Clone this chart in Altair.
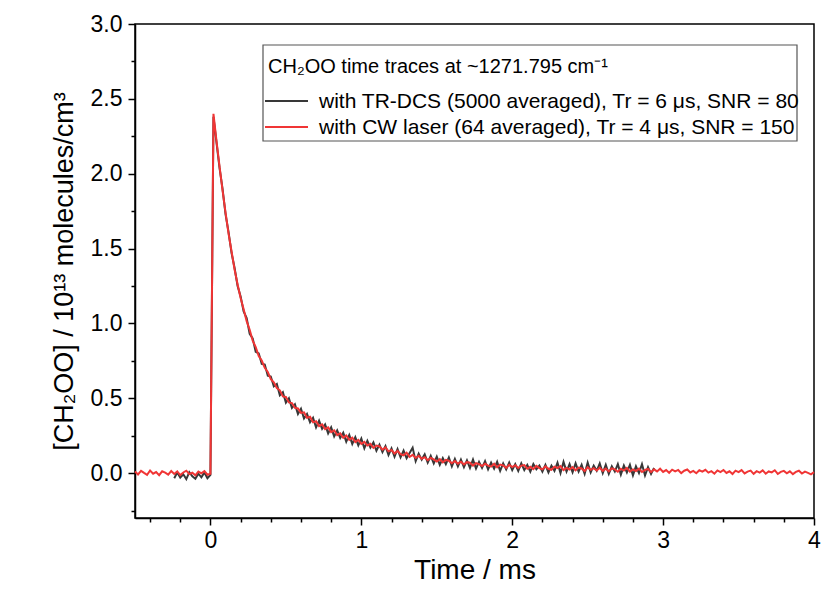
import altair as alt
import numpy as np
import pandas as pd

# ---------------- data ----------------
LEGEND_TITLE = "CH\u2082OO time traces at ~1271.795 cm\u207b\u00b9"
LABEL_DCS = "with TR-DCS (5000 averaged), Tr = 6 \u03bcs, SNR = 80"
LABEL_CW = "with CW laser (64 averaged), Tr = 4 \u03bcs, SNR = 150"
COLOR_DCS = "#383838"
COLOR_CW = "#f03535"

# CW laser trace: t = -0.50 ... 4.00 ms, step 0.02 ms
red_pre = [0.010, -0.009, 0.015, 0.001, -0.012, 0.017, -0.004, 0.007, -0.014, 0.012,
           0.003, -0.010, 0.014, -0.006, 0.011, -0.013, 0.004, 0.016, -0.007, 0.002,
           -0.015, 0.010, -0.002, 0.013, -0.011, -0.004]
red_decay = [
    2.40, 2.22, 2.05, 1.89, 1.74, 1.60, 1.48, 1.36, 1.26, 1.17,
    1.095, 1.015, 0.958, 0.885, 0.842, 0.782, 0.752, 0.703, 0.676, 0.628,
    0.607, 0.568, 0.553, 0.512, 0.509, 0.472, 0.468, 0.436, 0.432, 0.402,
    0.406, 0.370, 0.376, 0.339, 0.347, 0.314, 0.326, 0.294, 0.305, 0.274,
    0.286, 0.254, 0.266, 0.236, 0.252, 0.222, 0.236, 0.207, 0.222, 0.195,
    0.209, 0.184, 0.195, 0.169, 0.184, 0.178, 0.156, 0.171, 0.145, 0.154,
    0.131, 0.148, 0.126, 0.119, 0.136, 0.108, 0.122, 0.101, 0.116, 0.096,
    0.106, 0.086, 0.101, 0.091, 0.077, 0.093, 0.072, 0.088, 0.083, 0.066,
    0.081, 0.063, 0.076, 0.058, 0.073, 0.069, 0.050, 0.066, 0.060, 0.047,
    0.063, 0.050, 0.043, 0.062, 0.039, 0.057, 0.051, 0.035, 0.055, 0.040,
    0.053, 0.034, 0.050, 0.054, 0.029, 0.042, 0.027, 0.048, 0.033, 0.025,
    0.045, 0.029, 0.022, 0.043, 0.034, 0.047, 0.020, 0.035, 0.024, 0.040,
    0.019, 0.037, 0.031, 0.014, 0.039, 0.022, 0.033, 0.017, 0.036, 0.015,
    0.030, 0.011, 0.032, 0.025, 0.009, 0.029, 0.017, 0.035, 0.010, 0.024,
    0.014, 0.030, 0.007, 0.021, 0.028, 0.006, 0.025, 0.011, 0.029, 0.008,
    0.020, 0.002, 0.023, 0.012, 0.021, 0.000, 0.016, 0.024, 0.004, 0.015,
    -0.001, 0.019, 0.010, 0.022, 0.003, 0.013, -0.004, 0.018, 0.007, 0.021,
    0.001, 0.012, -0.006, 0.016, 0.006, 0.020, -0.002, 0.010, 0.017, -0.005,
    0.013, 0.003, 0.018, -0.004, 0.011, 0.005, 0.019, -0.006, 0.008, 0.015,
    -0.001, 0.012, -0.007, 0.008, 0.016, -0.003, 0.010, 0.002, -0.008, 0.006,
]
red_y = red_pre + red_decay
red_t = np.round(np.arange(-0.50, 4.0001, 0.02), 2)

# TR-DCS trace: t = -0.24 ... 2.94 ms, step 0.02 ms
black_pre = [-0.034, 0.004, -0.030, -0.008, -0.040, 0.006, -0.022, -0.038, -0.004,
             -0.028, 0.004, -0.034, -0.012]
black_decay = [
    2.38, 2.21, 2.04, 1.90, 1.73, 1.61, 1.47, 1.37, 1.25, 1.18,
    1.08, 1.035, 0.93, 0.90, 0.81, 0.80, 0.73, 0.725, 0.65, 0.645,
    0.580, 0.595, 0.520, 0.540, 0.470, 0.500, 0.435, 0.460, 0.395, 0.430,
    0.365, 0.395, 0.340, 0.370, 0.305, 0.350, 0.295, 0.325, 0.265, 0.305,
    0.245, 0.285, 0.235, 0.270, 0.210, 0.255, 0.195, 0.240, 0.185, 0.230,
    0.165, 0.215, 0.170, 0.205, 0.150, 0.190, 0.140, 0.180, 0.120, 0.165,
    0.110, 0.160, 0.105, 0.150, 0.100, 0.135, 0.170, 0.080, 0.130, 0.090,
    0.125, 0.070, 0.115, 0.065, 0.110, 0.055, 0.100, 0.060, 0.105, 0.045,
    0.095, 0.045, 0.090, 0.040, 0.085, 0.035, 0.090, 0.030, 0.075, 0.035,
    0.080, 0.025, 0.070, 0.030, 0.075, 0.015, 0.065, 0.025, 0.070, 0.020,
    0.060, 0.015, 0.065, 0.020, 0.055, 0.010, 0.060, 0.025, 0.050, 0.010,
    0.055, 0.005, 0.050, 0.015, 0.070, 0.000, 0.075, 0.010, 0.060, 0.005,
    0.065, 0.010, 0.055, -0.005, 0.070, 0.005, 0.050, 0.015, 0.065, 0.000,
    0.055, -0.005, 0.045, 0.010, 0.060, -0.010, 0.050, 0.005, 0.055, -0.015,
    0.045, 0.000, 0.060, -0.015, 0.040, -0.005, 0.035,
]
black_y = black_pre + black_decay
black_t = np.round(np.arange(-0.24, 2.9401, 0.02), 2)

assert len(red_t) == len(red_y), (len(red_t), len(red_y))
assert len(black_t) == len(black_y), (len(black_t), len(black_y))

x_ticks = [-0.4, -0.2, 0, 0.2, 0.4, 0.6, 0.8, 1, 1.2, 1.4, 1.6, 1.8, 2, 2.2, 2.4, 2.6,
           2.8, 3, 3.2, 3.4, 3.6, 3.8, 4]
y_ticks = [-0.25, 0, 0.25, 0.5, 0.75, 1.0, 1.25, 1.5, 1.75, 2.0, 2.25, 2.5, 2.75, 3.0]

df_black = pd.DataFrame({"t": black_t, "v": black_y, "series": LABEL_DCS})
df_red = pd.DataFrame({"t": red_t, "v": red_y, "series": LABEL_CW})

FONT = "Liberation Sans"

x_major = "abs(datum.value - round(datum.value)) < 0.001"
y_major = "abs(datum.value * 2 - round(datum.value * 2)) < 0.001"

x_enc = alt.X(
    "t:Q",
    scale=alt.Scale(domain=[-0.5, 4.0], nice=False, zero=False),
    axis=alt.Axis(
        title="Time / ms",
        values=x_ticks,
        labelExpr=f"{x_major} ? format(datum.value, 'd') : ''",
        tickSize={"condition": {"test": x_major, "value": 7}, "value": 4},
        labelFlush=False,
        labelOverlap=False,
        labelPadding=4,
        titlePadding=4,
        titleFontSize=28,
    ),
)
y_enc = alt.Y(
    "v:Q",
    scale=alt.Scale(domain=[-0.3, 3.0], nice=False, zero=False),
    axis=alt.Axis(
        title="[CH\u2082OO] / 10\u00b9\u00b3 molecules/cm\u00b3",
        values=y_ticks,
        labelExpr=f"{y_major} ? format(datum.value, '.1f') : ''",
        tickSize={"condition": {"test": y_major, "value": 7}, "value": 4},
        labelFlush=False,
        labelOverlap=False,
        labelPadding=6,
        titlePadding=12,
        titleFontSize=27,
    ),
)
color_enc = alt.Color(
    "series:N",
    scale=alt.Scale(domain=[LABEL_DCS, LABEL_CW], range=[COLOR_DCS, COLOR_CW]),
    legend=None,
)

black = alt.Chart(df_black).mark_line(strokeWidth=2).encode(x=x_enc, y=y_enc, color=color_enc)
red = alt.Chart(df_red).mark_line(strokeWidth=2).encode(x=x_enc, y=y_enc, color=color_enc)

# ---- legend box drawn by hand ----
one = pd.DataFrame({"k": [0]})
box = alt.Chart(one).mark_rect(fill="white", stroke="#555555", strokeWidth=1.2).encode(
    x=alt.value(128), x2=alt.value(662), y=alt.value(21), y2=alt.value(117)
)
leg_title = alt.Chart(pd.DataFrame({"txt": [LEGEND_TITLE]})).mark_text(
    align="left", baseline="middle", font=FONT, fontSize=20, color="black"
).encode(x=alt.value(133), y=alt.value(43), text="txt:N")
leg_line1 = alt.Chart(one).mark_rule(color=COLOR_DCS, strokeWidth=2).encode(
    x=alt.value(130), x2=alt.value(173), y=alt.value(77)
)
leg_line2 = alt.Chart(one).mark_rule(color=COLOR_CW, strokeWidth=2).encode(
    x=alt.value(130), x2=alt.value(173), y=alt.value(103)
)
leg_txt1 = alt.Chart(pd.DataFrame({"txt": [LABEL_DCS]})).mark_text(
    align="left", baseline="middle", font=FONT, fontSize=21, color="black"
).encode(x=alt.value(184), y=alt.value(78), text="txt:N")
leg_txt2 = alt.Chart(pd.DataFrame({"txt": [LABEL_CW]})).mark_text(
    align="left", baseline="middle", font=FONT, fontSize=21, color="black"
).encode(x=alt.value(184), y=alt.value(104), text="txt:N")

chart = (
    alt.layer(black, red, box, leg_title, leg_line1, leg_line2, leg_txt1, leg_txt2)
    .properties(
        width=679,
        height=494,
        autosize=alt.AutoSizeParams(type="none"),
        padding={"left": 135, "top": 24, "right": 9, "bottom": 72},
        background="white",
    )
    .configure_view(stroke="black", strokeWidth=1.5)
    .configure_axis(
        grid=False,
        domainColor="black",
        domainWidth=1.5,
        tickColor="black",
        tickWidth=1.5,
        labelFont=FONT,
        titleFont=FONT,
        labelFontSize=23,
        labelColor="black",
        titleColor="black",
        titleFontWeight="normal",
    )
)

chart.save("out.html", embed_options={"renderer": "svg", "actions": False})
